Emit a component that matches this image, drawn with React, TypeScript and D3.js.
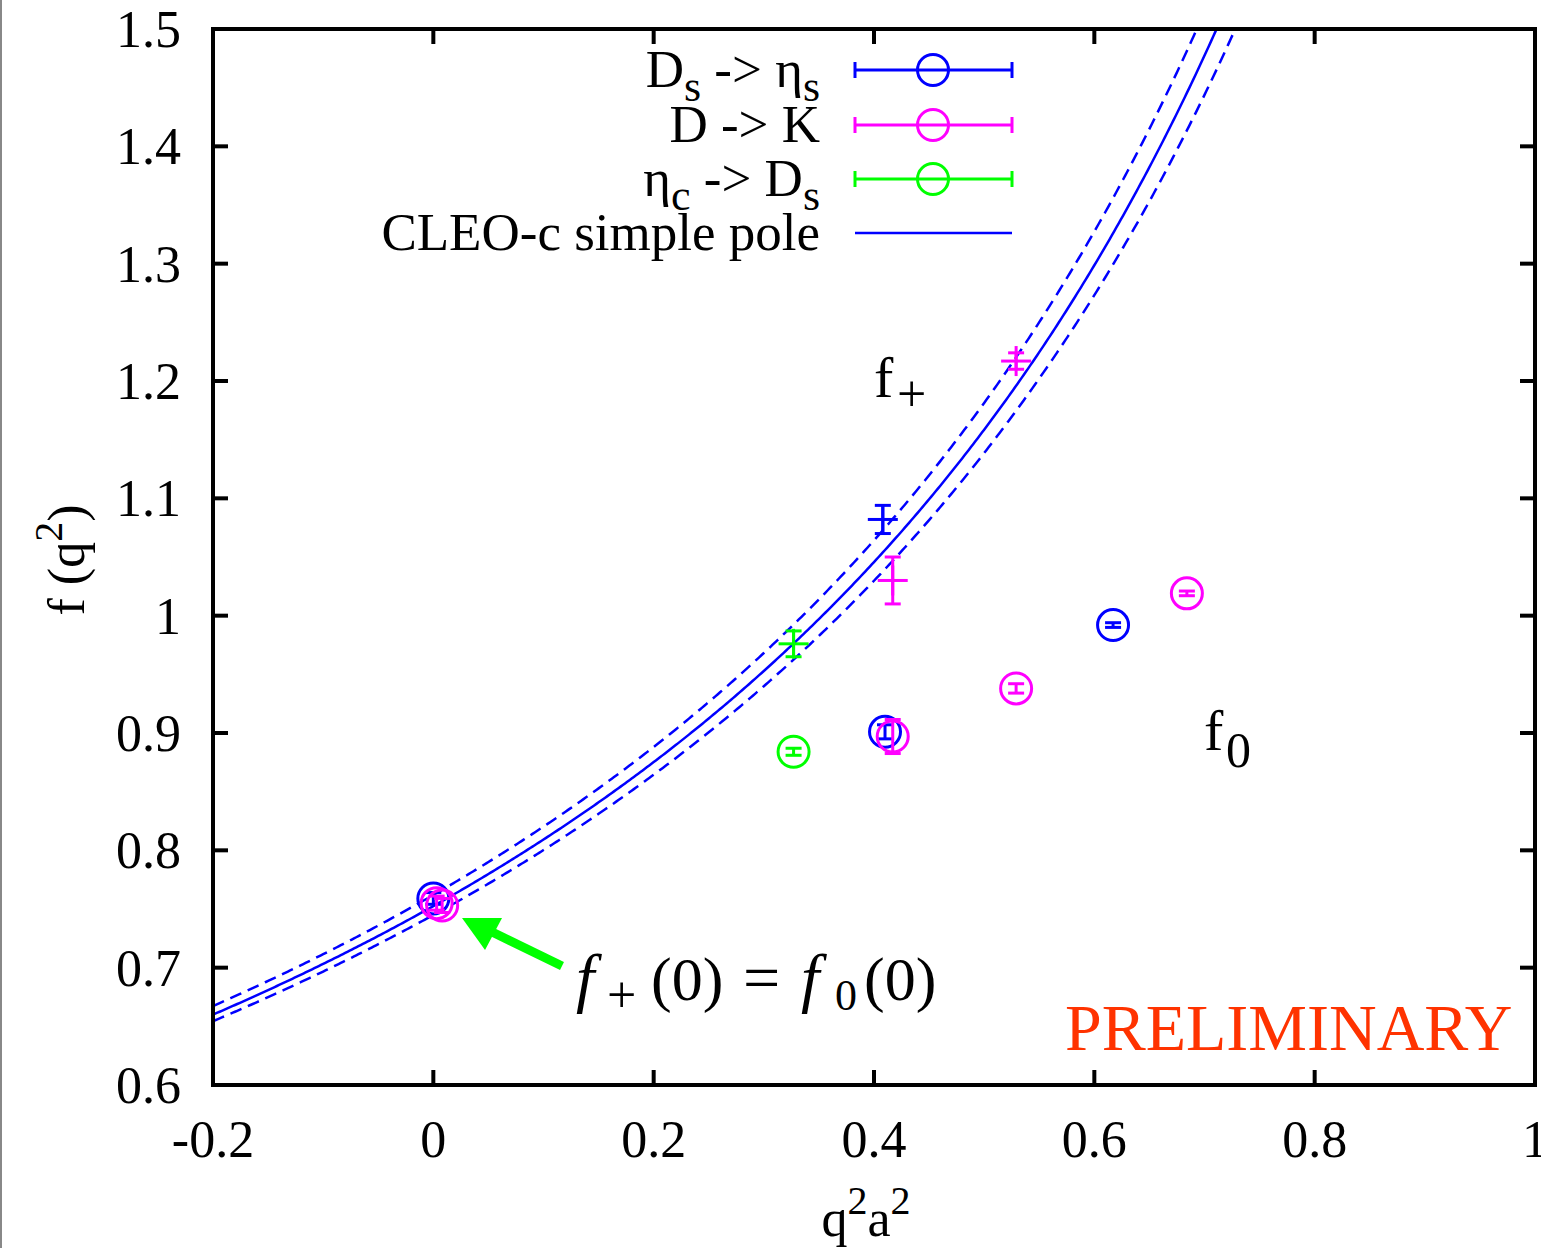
import React from "react";
import * as d3 from "d3";

// Form factor f(q^2) versus q^2 a^2 for three lattice decay channels.
const W = 1541;
const H = 1248;

const xTicks = [-0.2, 0, 0.2, 0.4, 0.6, 0.8, 1.0];
const xTickLabels = ["-0.2", "0", "0.2", "0.4", "0.6", "0.8", "1"];
const yTicks = [0.6, 0.7, 0.8, 0.9, 1.0, 1.1, 1.2, 1.3, 1.4, 1.5];
const yTickLabels = ["0.6", "0.7", "0.8", "0.9", "1", "1.1", "1.2", "1.3", "1.4", "1.5"];

// f_+ points (plus markers with vertical error bars)
const fPlusDsEtas = [{ q: 0.408, f: 1.082, e: 0.012 }];
const fPlusDK = [
  { q: 0.417, f: 1.03, e: 0.02 },
  { q: 0.529, f: 1.217, e: 0.007 },
];
const fPlusEtacDs = [{ q: 0.327, f: 0.976, e: 0.011 }];

// f_0 points (open circles with vertical error bars)
const fZeroDsEtas = [
  { q: 0.0, f: 0.759, e: 0.005 },
  { q: 0.41, f: 0.901, e: 0.006 },
  { q: 0.617, f: 0.992, e: 0.002 },
];
const fZeroDK = [
  { q: 0.003, f: 0.755, e: 0.006 },
  { q: 0.008, f: 0.753, e: 0.006 },
  { q: 0.417, f: 0.897, e: 0.0145 },
  { q: 0.529, f: 0.938, e: 0.004 },
  { q: 0.684, f: 1.019, e: 0.002 },
];
const fZeroEtacDs = [{ q: 0.327, f: 0.884, e: 0.003 }];

// CLEO-c simple pole fit: f(x) = f0 / (1 - x / M), central value and band edges
const poleCentral = { f0: 0.7525, M: 1.4267 };
const poleUpper = { f0: 0.762, M: 1.4086 };
const poleLower = { f0: 0.7449, M: 1.446 };

const BLUE = "#0000ff";
const MAGENTA = "#ff00ff";
const GREEN = "#00ff00";
const FONT = "'Liberation Serif', 'Times New Roman', serif";

const left = 213;
const right = 1535;
const top = 29;
const bottom = 1085;

const x = d3.scaleLinear().domain([-0.2, 1.0]).range([left, right]);
const y = d3.scaleLinear().domain([0.6, 1.5]).range([bottom, top]);

const qGrid = d3.range(-0.2, 0.76, 0.002);
const poleLine = (p: { f0: number; M: number }) =>
  d3
    .line<number>()
    .x((q) => x(q))
    .y((q) => y(p.f0 / (1 - q / p.M)))(qGrid) as string;

type Pt = { q: number; f: number; e: number };

function ErrBar({ p, color, cap = 8 }: { p: Pt; color: string; cap?: number }) {
  const cx = x(p.q);
  const y1 = y(p.f + p.e);
  const y0 = y(p.f - p.e);
  return (
    <g stroke={color} strokeWidth={3} fill="none">
      <line x1={cx} x2={cx} y1={y1} y2={y0} />
      <line x1={cx - cap} x2={cx + cap} y1={y1} y2={y1} />
      <line x1={cx - cap} x2={cx + cap} y1={y0} y2={y0} />
    </g>
  );
}

function PlusPoint({ p, color }: { p: Pt; color: string }) {
  const cx = x(p.q);
  const cy = y(p.f);
  return (
    <g>
      <ErrBar p={p} color={color} />
      <g stroke={color} strokeWidth={3}>
        <line x1={cx - 15} x2={cx + 15} y1={cy} y2={cy} />
        <line x1={cx} x2={cx} y1={cy - 15} y2={cy + 15} />
      </g>
    </g>
  );
}

function CirclePoint({ p, color }: { p: Pt; color: string }) {
  return (
    <g>
      <ErrBar p={p} color={color} />
      <circle cx={x(p.q)} cy={y(p.f)} r={15.5} fill="none" stroke={color} strokeWidth={3} />
    </g>
  );
}

const legendRows = [
  { key: "ds", color: BLUE, cy: 70 },
  { key: "dk", color: MAGENTA, cy: 125 },
  { key: "etac", color: GREEN, cy: 179 },
];

export default function App() {
  const tickLen = 15;
  return (
    <svg
      width={W}
      height={H}
      style={{ position: "absolute", left: 0, top: 0, background: "#fff" }}
      fontFamily={FONT}
    >
      <rect x={0} y={0} width={W} height={H} fill="#fff" />
      <line x1={1} x2={1} y1={0} y2={H} stroke="#888" strokeWidth={2} />
      <defs>
        <clipPath id="plotArea">
          <rect x={left} y={top} width={right - left} height={bottom - top} />
        </clipPath>
      </defs>

      {/* fit curves */}
      <g clipPath="url(#plotArea)" fill="none" stroke={BLUE} strokeWidth={2.5}>
        <path d={poleLine(poleCentral)} />
        <path d={poleLine(poleUpper)} strokeDasharray="12 7" />
        <path d={poleLine(poleLower)} strokeDasharray="12 7" />
      </g>

      {/* f_0 points */}
      {fZeroEtacDs.map((p, i) => <CirclePoint key={"ze" + i} p={p} color={GREEN} />)}
      {fZeroDsEtas.map((p, i) => <CirclePoint key={"zd" + i} p={p} color={BLUE} />)}
      {fZeroDK.map((p, i) => <CirclePoint key={"zk" + i} p={p} color={MAGENTA} />)}

      {/* f_+ points */}
      {fPlusEtacDs.map((p, i) => <PlusPoint key={"pe" + i} p={p} color={GREEN} />)}
      {fPlusDsEtas.map((p, i) => <PlusPoint key={"pd" + i} p={p} color={BLUE} />)}
      {fPlusDK.map((p, i) => <PlusPoint key={"pk" + i} p={p} color={MAGENTA} />)}

      {/* frame and ticks */}
      <g stroke="#000" strokeWidth={4} fill="none">
        <rect x={left} y={top} width={right - left} height={bottom - top} />
        {xTicks.slice(1, -1).map((t) => (
          <g key={"xt" + t}>
            <line x1={x(t)} x2={x(t)} y1={bottom} y2={bottom - tickLen} />
            <line x1={x(t)} x2={x(t)} y1={top} y2={top + tickLen} />
          </g>
        ))}
        {yTicks.slice(1, -1).map((t) => (
          <g key={"yt" + t}>
            <line x1={left} x2={left + tickLen} y1={y(t)} y2={y(t)} />
            <line x1={right} x2={right - tickLen} y1={y(t)} y2={y(t)} />
          </g>
        ))}
      </g>

      {/* tick labels */}
      <g fontSize={52} fill="#000">
        {xTicks.map((t, i) => (
          <text key={"xl" + t} x={x(t)} y={1157} textAnchor="middle">
            {xTickLabels[i]}
          </text>
        ))}
        {yTicks.map((t, i) => (
          <text key={"yl" + t} x={181} y={y(t) + 18} textAnchor="end">
            {yTickLabels[i]}
          </text>
        ))}
      </g>

      {/* axis titles */}
      <text x={866} y={1236} fontSize={52} textAnchor="middle">
        q<tspan fontSize={40} dy={-22}>2</tspan>
        <tspan dy={22}>a</tspan>
        <tspan fontSize={40} dy={-22}>2</tspan>
      </text>
      <text transform="translate(84,560) rotate(-90)" fontSize={52} textAnchor="middle">
        f (q<tspan fontSize={40} dy={-22}>2</tspan>
        <tspan dy={22}>)</tspan>
      </text>

      {/* legend */}
      <g fontSize={53} textAnchor="end">
        <text x={820} y={87}>
          D<tspan fontSize={44} dy={14}>s</tspan>
          <tspan dy={-14}> -&gt; η</tspan>
          <tspan fontSize={44} dy={14}>s</tspan>
        </text>
        <text x={820} y={142}>D -&gt; K</text>
        <text x={820} y={196}>
          η<tspan fontSize={44} dy={14}>c</tspan>
          <tspan dy={-14}> -&gt; D</tspan>
          <tspan fontSize={44} dy={14}>s</tspan>
        </text>
        <text x={820} y={250}>CLEO-c simple pole</text>
      </g>
      {legendRows.map((r) => (
        <g key={r.key} stroke={r.color} strokeWidth={3} fill="none">
          <line x1={855} x2={1012} y1={r.cy} y2={r.cy} />
          <line x1={855} x2={855} y1={r.cy - 8} y2={r.cy + 8} />
          <line x1={1012} x2={1012} y1={r.cy - 8} y2={r.cy + 8} />
          <circle cx={933} cy={r.cy} r={15.5} />
        </g>
      ))}
      <line x1={855} x2={1012} y1={233} y2={233} stroke={BLUE} strokeWidth={2.5} />

      {/* curve labels */}
      <text x={874} y={397} fontSize={58}>
        f<tspan x={897} fontSize={52} dy={14}>+</tspan>
      </text>
      <text x={1204} y={750} fontSize={58}>
        f<tspan x={1226} fontSize={50} dy={17}>0</tspan>
      </text>

      {/* annotation arrow */}
      <line x1={562} x2={488} y1={966} y2={930} stroke={GREEN} strokeWidth={9} />
      <polygon points="462,918 502,918 485,950" fill={GREEN} />

      <text y={1000} fontSize={62}>
        <tspan x={576} fontStyle="italic" fontSize={66}>f</tspan>
        <tspan x={607} y={1012} fontSize={52}>+</tspan>
        <tspan x={651} y={1000}>(0)</tspan>
        <tspan x={743} fontSize={66}>=</tspan>
        <tspan x={801} fontStyle="italic" fontSize={66}>f</tspan>
        <tspan x={835} y={1010} fontSize={44}>0</tspan>
        <tspan x={864} y={1000}>(0)</tspan>
      </text>

      <text x={1065} y={1050} fontSize={66} fill="#ff3300">
        PRELIMINARY
      </text>
    </svg>
  );
}
